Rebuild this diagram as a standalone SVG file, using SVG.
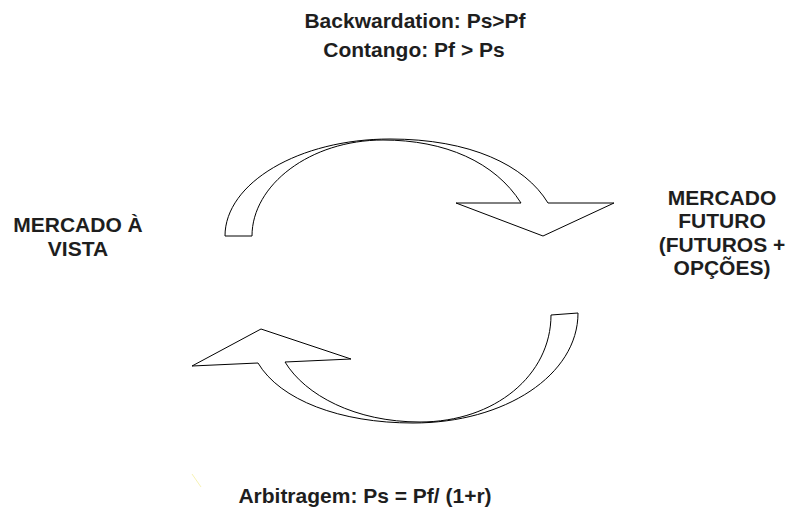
<svg xmlns="http://www.w3.org/2000/svg" width="789" height="508" viewBox="0 0 789 508">
<style>
text{font-family:"Liberation Sans",Arial,sans-serif;font-weight:bold;font-size:21px;fill:#1e1e1e;text-anchor:middle}
.arrow{fill:#fff;stroke:#000;stroke-width:1;stroke-linejoin:miter}
</style>
<rect width="789" height="508" fill="#fff"/>
<g id="label-top">
<text x="415" y="28">Backwardation: Ps&gt;Pf</text>
<text x="414" y="57">Contango: Pf &gt; Ps</text>
</g>
<g id="node-vista">
<text x="78" y="232">MERCADO À</text>
<text x="78" y="256">VISTA</text>
</g>
<g id="node-futuro">
<text x="722" y="205">MERCADO</text>
<text x="722" y="228">FUTURO</text>
<text x="722" y="252">(FUTUROS +</text>
<text x="722" y="275">OPÇÕES)</text>
</g>
<g id="label-bottom">
<text x="365" y="503">Arbitragem: Ps = Pf/ (1+r)</text>
</g>
<g id="connectors">
<path class="arrow" d="M225,236 C225,183 299,139 390,139 C470,139 525,165 548,203 L614,203 L543,236 L456,203 L521,203 C495,162 445,140 383,140 C310,140 252,185 252,236 Z"/>
<path class="arrow" d="M578,313 C578,375 505,423 413,423 C340,423 280,400 258,363 L192,366 L261,329 L351,359 L285,362 C305,395 355,422 420,422 C495,422 551,375 551,315 Z"/>
</g>
<line x1="192" y1="474" x2="201" y2="487" stroke="#f4efa0" stroke-width="0.8"/>
</svg>
